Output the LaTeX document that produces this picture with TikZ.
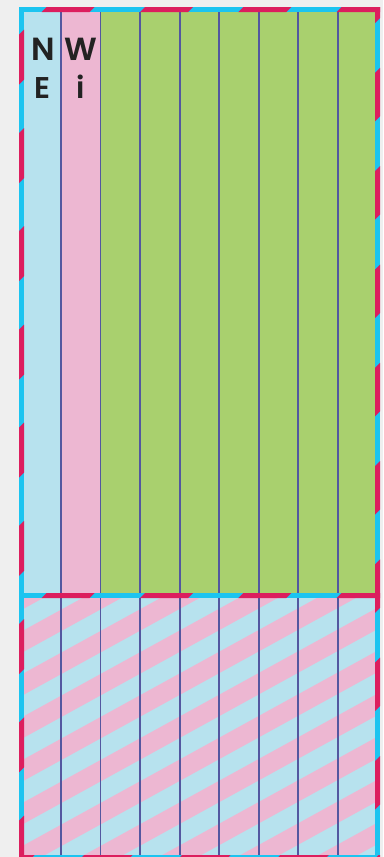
\documentclass[tikz,border=0pt]{standalone}
\usepackage{fontspec}
\setmainfont{Poppins}
\newfontfamily\semifont{Poppins SemiBold}
\definecolor{bgc}{HTML}{EFEFEF}
\definecolor{lblue}{HTML}{B7E2EE}
\definecolor{pinkc}{HTML}{EDB7D2}
\definecolor{greenc}{HTML}{A9D06E}
\definecolor{cyanc}{HTML}{1CC4F0}
\definecolor{redc}{HTML}{DC1E5E}
\definecolor{colline}{HTML}{5357A0}
\definecolor{txt}{HTML}{222222}
\begin{document}
\begin{tikzpicture}[x=1pt,y=-1pt,
  bigletter/.style={anchor=base, text=txt, inner sep=0pt, font=\fontsize{32}{32}\semifont},
  smallletter/.style={anchor=base, text=txt, inner sep=0pt, font=\fontsize{30}{30}\semifont},
  colrule/.style={colline, line width=1.8pt}]
\fill[bgc] (0,0) rectangle (383,857);
\useasboundingbox (0,0) rectangle (383,857);
% upper area
\fill[lblue] (24,12) rectangle (61,593);
\fill[pinkc] (61,12) rectangle (100.5,593);
\fill[greenc] (100.5,12) rectangle (375,593);
% lower striped area
\fill[lblue] (24,598) rectangle (375,855);
\begin{scope}
  \clip (24,598) rectangle (375,855);
  \foreach \k in {-5,...,9} {
    \pgfmathsetmacro{\c}{740+43*\k}
    \draw[pinkc, line width=18.8pt] (-10,{\c+5.5}) -- (400,{\c-220});
  }
\end{scope}
% column rules
\foreach \x in {61,100.5,140.1,179.6,219.2,258.7,298.3,337.9}
  \draw[colrule] (\x,12) -- (\x,855);
% letters
\node[bigletter] (n) at (42.8,60) {N};
\node[bigletter] (w) at (80.5,60) {W};
\node[smallletter] (e) at (42.3,98) {E};
\node[smallletter] (i) at (80.5,98) {i};
% cyan borders
\fill[cyanc] (19,7) rectangle (380,12);
\fill[cyanc] (19,7) rectangle (24,860);
\fill[cyanc] (375,7) rectangle (380,860);
\fill[cyanc] (19,855) rectangle (380,860);
\fill[cyanc] (19,593) rectangle (380,598);
% red dashes: top
\begin{scope}
  \clip (19,7) rectangle (380,12);
  \foreach \a in {44.2,142.5,240.8,339.1}
    \fill[redc] ({\a+2.5},7) -- ({\a+50.5},7) -- ({\a+45.5},12) -- ({\a-2.5},12) -- cycle;
\end{scope}
% middle
\begin{scope}
  \clip (19,593) rectangle (380,598);
  \foreach \a in {44.2,142.5,240.8,339.1}
    \fill[redc] ({\a+2.5},593) -- ({\a+50.5},593) -- ({\a+45.5},598) -- ({\a-2.5},598) -- cycle;
\end{scope}
% bottom
\begin{scope}
  \clip (19,855) rectangle (380,860);
  \foreach \a in {-16.5,81.5,179.7,277.9,376.1}
    \fill[redc] ({\a+2.5},855) -- ({\a+51},855) -- ({\a+46},860) -- ({\a-2.5},860) -- cycle;
\end{scope}
% left
\begin{scope}
  \clip (19,7) rectangle (24,860);
  \foreach \a in {32,130.5,228.7,327,425.2,523.4,621.6,719.8,818}
    \fill[redc] (19,{\a+2.5}) -- (24,{\a-2.5}) -- (24,{\a+47.5}) -- (19,{\a+52.5}) -- cycle;
\end{scope}
% right
\begin{scope}
  \clip (375,7) rectangle (380,860);
  \foreach \a in {-27.9,70.4,168.7,267,365.3,463.6,561.9,660.2,758.5}
    \fill[redc] (375,{\a+2.5}) -- (380,{\a-2.5}) -- (380,{\a+46}) -- (375,{\a+51}) -- cycle;
\end{scope}
\end{tikzpicture}
\end{document}
